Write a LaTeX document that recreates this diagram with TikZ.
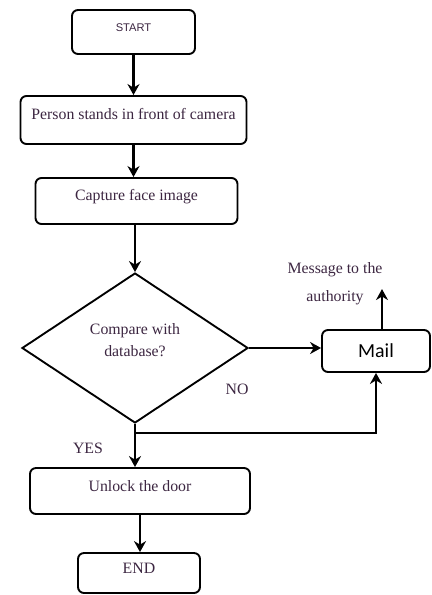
\documentclass[tikz,border=0pt]{standalone}
\usepackage{fontspec}
\setmainfont{Liberation Serif}
\newfontfamily\startfont{Liberation Sans}
\newfontfamily\mailfont{Carlito}
\usepackage{tikz}
\usetikzlibrary{shapes.geometric,
  arrows.meta,
  positioning}
\definecolor{inkpurple}{RGB}{60,38,65}

\begin{document}
\begin{tikzpicture}[node distance=2.5cm]
    % Define styles for nodes and arrows
    \tikzstyle{terminal} = [rectangle, rounded corners=0.18cm, minimum width=3.69cm, minimum height=1.32cm, text centered, draw=black, line width=1.6pt, text height=8pt, text depth=8pt, text=inkpurple]
    \tikzstyle{process} = [rectangle, rounded corners=0.18cm, minimum height=1.4cm, text centered, draw=black, line width=1.6pt, text height=8pt, text depth=8pt, text=inkpurple, font=\fontsize{13.5}{16}\selectfont]
    \tikzstyle{decision} = [diamond, minimum width=6.78cm, minimum height=4.5cm, inner sep=0pt, align=center, draw=black, line width=1.6pt, text=inkpurple, text height=20pt, text depth=6pt, font=\fontsize{13.5}{16.5}\selectfont]
    \tikzstyle{plain} = [align=center, text=inkpurple, font=\fontsize{13.5}{16}\selectfont]
    % Thick arrows with sharp heads
    \tikzstyle{arrow} = [line width=2pt, -{Stealth[length=0.33cm, width=0.36cm]}]
    \useasboundingbox (-4.005,0.96) rectangle (8.925,-16.89);
    % Nodes
    \node (start) [terminal, font=\startfont\fontsize{9.5}{11}\selectfont] {START};
    \node (person) [process, minimum width=6.78cm, minimum height=1.44cm, node distance=2.64cm, below of=start] {Person stands in front of camera};
    \node (capture) [process, minimum width=6.06cm, minimum height=1.38cm, node distance=2.43cm, below of=person, xshift=0.09cm] {Capture face image};
    \node (decide) [decision, node distance=4.41cm, below of=capture, xshift=-0.045cm] {Compare with\\[2pt]database?};
    \node (unlock) [process, minimum width=6.6cm, minimum height=1.38cm, node distance=4.29cm, below of=decide, xshift=0.15cm] {Unlock the door};
    \node (finish) [terminal, minimum width=3.66cm, minimum height=1.2cm, font=\fontsize{13.5}{16}\selectfont, node distance=2.46cm, below of=unlock, xshift=-0.03cm] {END};
    \node (mail) [rectangle, rounded corners=0.18cm, minimum width=3.24cm, minimum height=1.26cm, draw=black, line width=1.6pt, font=\mailfont\fontsize{17}{20}\selectfont, node distance=7.23cm, right of=decide, yshift=-0.09cm] {Mail};
    \node (msg) [plain, node distance=2.01cm, above of=mail, xshift=-1.23cm] {Message to the\\[8pt]authority};
    \node (no) [plain, node distance=3.06cm, right of=decide, yshift=-1.23cm] {NO};
    \node (yes) [plain, node distance=3.0cm, below of=decide, xshift=-1.41cm] {YES};
    \coordinate[above=1.2cm of mail.north, xshift=0.18cm] (msgtip);
    \coordinate[below=0.27cm of decide.south] (join);
    % Arrows (connections)
    \draw [arrow] (start) -- (person);
    \draw [arrow] (person.south) -- (person.south |- capture.north);
    \draw [arrow] (decide.north |- capture.south) -- (decide.north);
    \draw [arrow] (decide.east) -- (decide.east -| mail.west);
    \draw [arrow] (msgtip |- mail.north) -- (msgtip);
    \draw [arrow] (decide.south) -- (decide.south |- unlock.north);
    \draw [arrow] (join) -| (mail.south);
    \draw [arrow] (unlock.south) -- (unlock.south |- finish.north);
\end{tikzpicture}
\end{document}
